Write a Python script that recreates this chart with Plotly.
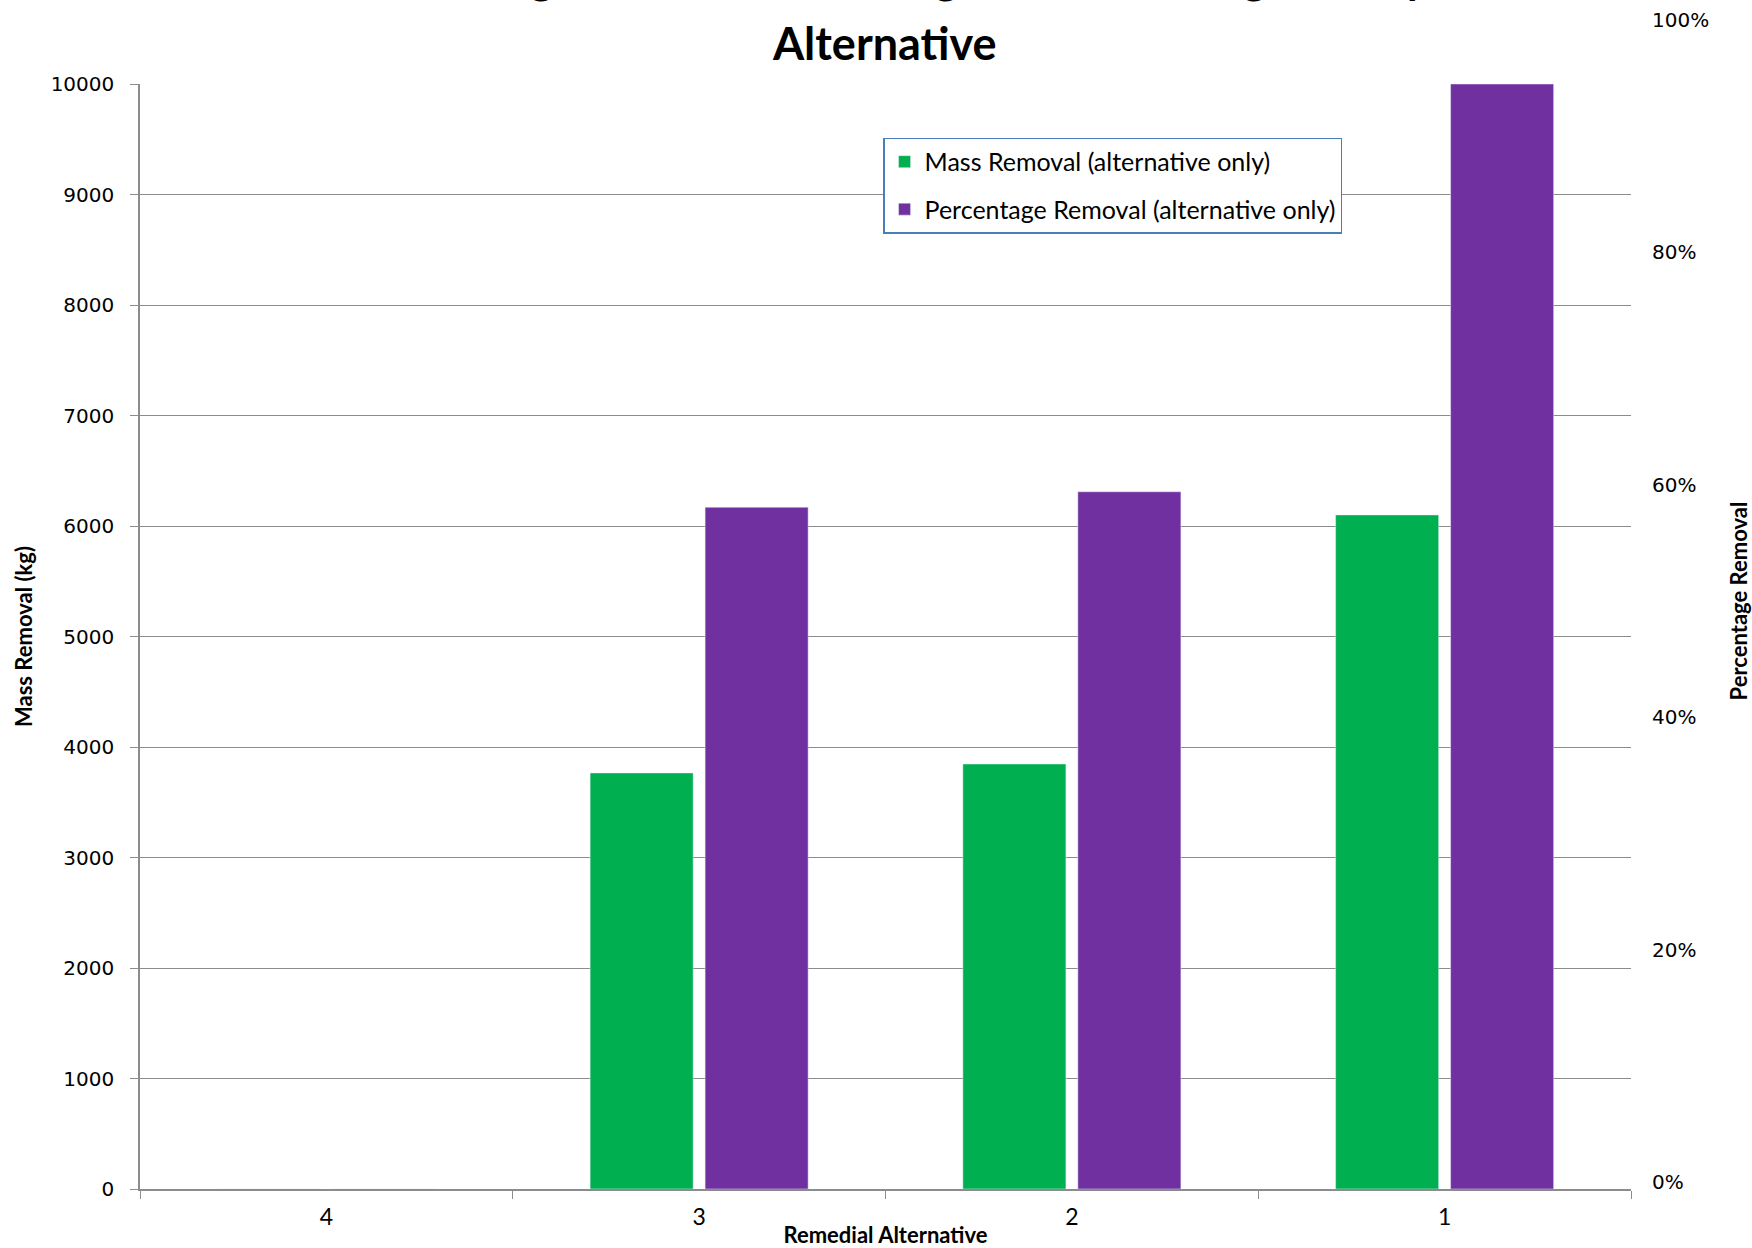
import plotly.graph_objects as go

# Daten
alternatives = ["4", "3", "2", "1"]
mass_removal = [0, 3765, 3846, 6100]          # kg
pct_removal = [0.0, 0.617, 0.631, 1.0]        # Anteil
right_ticks = [0, 0.2, 0.4, 0.6, 0.8, 1.0]
right_labels = ["0%", "20%", "40%", "60%", "80%", "100%"]

# erste Titelzeile ragt oben aus dem Bild heraus (wie im Original)
title_text = ("<span style='font-size:45px'>Mass Removal (kilograms) and Percentage "
              "Removal (targeted) by Remedial</span>"
              "<br><span style='font-size:45px'>Alternative</span>")

calibri = "Lato, 'Open Sans', sans-serif"
verdana = "'DejaVu Sans', Verdana, sans-serif"
grid = "#8c8c8c"

fig = go.Figure()
fig.add_trace(go.Bar(
    x=alternatives, y=mass_removal, name="Mass Removal (alternative only)",
    marker_color="#00b050", legendgroup="a", offsetgroup="a", yaxis="y"))
fig.add_trace(go.Bar(
    x=alternatives, y=pct_removal, name="Percentage Removal (alternative only)",
    marker_color="#7030a0", legendgroup="b", offsetgroup="b", yaxis="y2"))
# leere Spur, damit die rechte Prozentachse gezeichnet wird
fig.add_trace(go.Scatter(x=[], y=[], yaxis="y3", showlegend=False, hoverinfo="skip"))

fig.update_layout(
    width=1752, height=1248,
    margin=dict(l=140, r=121, t=20, b=59),
    paper_bgcolor="white", plot_bgcolor="rgba(0,0,0,0)",
    barmode="group", bargap=0.383, bargroupgap=0.104,
    title=dict(text=title_text, x=0.505, xanchor="center", y=0.999,
               yanchor="bottom", yref="container", pad=dict(b=8),
               font=dict(family=calibri, size=51, color="black", weight="bold")),
    legend=dict(x=0.4985, y=0.8994, xanchor="left", yanchor="top",
                bordercolor="#4a7ebb", borderwidth=1.3, bgcolor="white",
                font=dict(family=calibri, size=25, color="black"),
                tracegroupgap=12),
    xaxis=dict(
        title=dict(text="Remedial Alternative", standoff=0,
                   font=dict(family=calibri, size=22, color="black", weight="bold")),
        type="category", tickson="boundaries", ticks="outside", ticklen=8,
        tickcolor=grid, showline=True, linecolor=grid, linewidth=2,
        ticklabelstandoff=6, automargin=False,
        tickfont=dict(family=calibri, size=23, color="black"),
        showgrid=False),
    yaxis=dict(
        domain=[0, 1105 / 1169], range=[0, 10000], dtick=1000, tickformat="d",
        showgrid=True, gridcolor=grid, gridwidth=1.3,
        showline=True, linecolor=grid, linewidth=1.5,
        ticks="outside", ticklen=8, tickcolor=grid, ticklabelstandoff=12,
        tickfont=dict(family=verdana, size=20, color="black"),
        zeroline=False, automargin=False,
        title=dict(text="Mass Removal (kg)", standoff=12,
                   font=dict(family=calibri, size=22, color="black", weight="bold"))),
    yaxis2=dict(
        overlaying="y", side="right", range=[0, 1], automargin=False,
        showticklabels=False, showgrid=False, zeroline=False, ticks=""),
    yaxis3=dict(
        domain=[7 / 1169, 1], anchor="x", side="right", range=[0, 1],
        tickvals=right_ticks, ticktext=right_labels, automargin=False,
        showgrid=False, zeroline=False, showline=False, ticks="",
        ticklabelstandoff=20,
        tickfont=dict(family=verdana, size=20, color="black"),
        title=dict(text="Percentage Removal", standoff=30,
                   font=dict(family=calibri, size=22, color="black", weight="bold"))),
)

fig.write_html("out.html", config={"displayModeBar": False},
               post_script="document.body.style.margin = '0';")
